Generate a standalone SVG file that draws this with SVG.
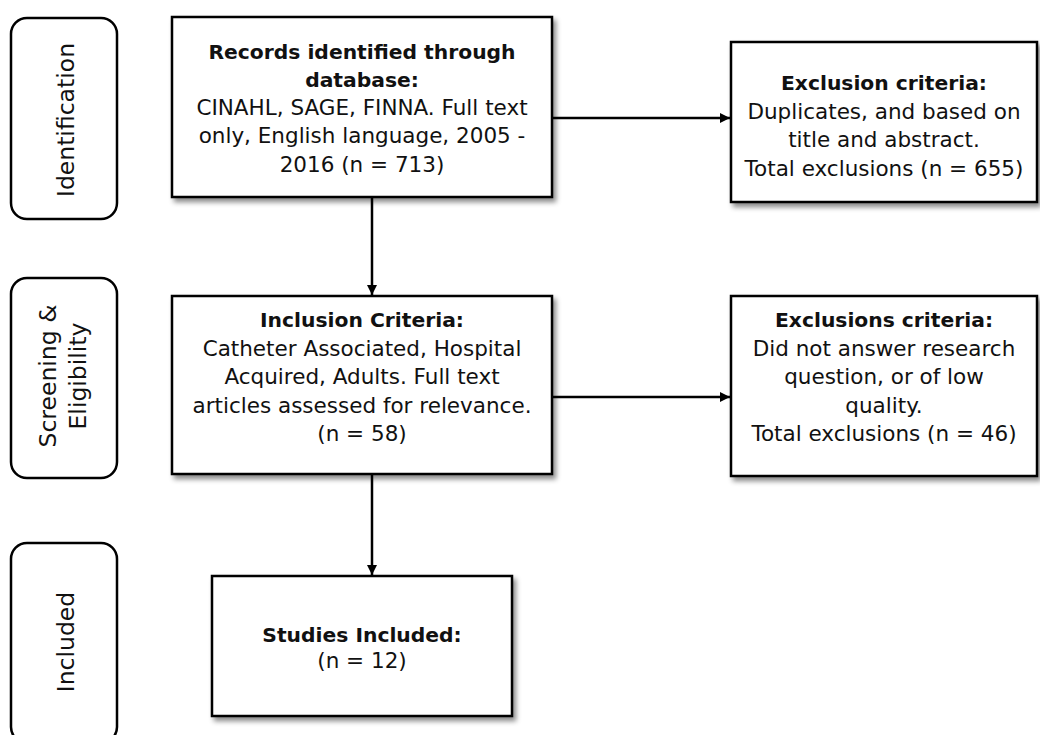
<svg xmlns="http://www.w3.org/2000/svg" width="1040" height="735" viewBox="0 0 1040 735">
<defs>
<filter id="sh" x="-10%" y="-10%" width="130%" height="130%">
<feDropShadow dx="3" dy="4" stdDeviation="2.5" flood-color="#000" flood-opacity="0.45"/>
</filter>
<marker id="ah" viewBox="0 0 10 10" refX="10" refY="5" markerWidth="10" markerHeight="10" markerUnits="userSpaceOnUse" orient="auto">
<path d="M0,0 L10,5 L0,10 Z" fill="#000"/>
</marker>
<style>
.box{fill:#fff;stroke:#000;stroke-width:2.5;filter:url(#sh)}
.pill{fill:#fff;stroke:#000;stroke-width:2.5}
.t{font-family:"DejaVu Sans",Verdana,sans-serif;font-size:21.5px;fill:#111;text-anchor:middle}
.b{font-weight:bold;font-size:20.3px}
.lbl{font-family:"DejaVu Sans",Verdana,sans-serif;font-size:23.5px;fill:#111;text-anchor:middle}
.c{stroke:#000;stroke-width:2.5;fill:none;marker-end:url(#ah)}
</style>
</defs>
<rect width="1040" height="735" fill="#fff"/>
<g id="stage-identification">
<rect class="pill" x="11" y="18" width="106" height="201" rx="16"/>
<text class="lbl" transform="translate(74,120) rotate(-90)">Identification</text>
</g>
<g id="stage-screening">
<rect class="pill" x="11" y="278" width="106" height="200" rx="16"/>
<text class="lbl" transform="translate(56,376) rotate(-90)"><tspan x="0" y="0">Screening &amp;</tspan><tspan x="0" y="30">Eligibility</tspan></text>
</g>
<g id="stage-included">
<rect class="pill" x="11" y="543" width="106" height="200" rx="16"/>
<text class="lbl" transform="translate(74,642) rotate(-90)">Included</text>
</g>
<g id="connectors">
<line class="c" x1="372" y1="197" x2="372" y2="295"/>
<line class="c" x1="552" y1="118" x2="730" y2="118"/>
<line class="c" x1="372" y1="474" x2="372" y2="575"/>
<line class="c" x1="552" y1="397" x2="730" y2="397"/>
</g>
<g id="records">
<rect class="box" x="172" y="17" width="380" height="180"/>
<text class="t"><tspan class="b" x="362" y="59">Records identified through</tspan><tspan class="b" x="362" y="87">database:</tspan><tspan x="362" y="115">CINAHL, SAGE, FINNA. Full text</tspan><tspan x="362" y="143">only, English language, 2005 -</tspan><tspan x="362" y="171.5">2016 (n = 713)</tspan></text>
</g>
<g id="exclusion1">
<rect class="box" x="731" y="42" width="306" height="160"/>
<text class="t"><tspan class="b" x="884" y="90">Exclusion criteria:</tspan><tspan x="884" y="118.5">Duplicates, and based on</tspan><tspan x="884" y="147">title and abstract.</tspan><tspan x="884" y="175.5">Total exclusions (n = 655)</tspan></text>
</g>
<g id="inclusion">
<rect class="box" x="172" y="296" width="380" height="178"/>
<text class="t"><tspan class="b" x="362" y="327">Inclusion Criteria:</tspan><tspan x="362" y="355.5">Catheter Associated, Hospital</tspan><tspan x="362" y="384">Acquired, Adults. Full text</tspan><tspan x="362" y="412.5">articles assessed for relevance.</tspan><tspan x="362" y="441">(n = 58)</tspan></text>
</g>
<g id="exclusion2">
<rect class="box" x="731" y="296" width="306" height="180"/>
<text class="t"><tspan class="b" x="884" y="327">Exclusions criteria:</tspan><tspan x="884" y="355.5">Did not answer research</tspan><tspan x="884" y="384">question, or of low</tspan><tspan x="884" y="412.5">quality.</tspan><tspan x="884" y="441">Total exclusions (n = 46)</tspan></text>
</g>
<g id="studies">
<rect class="box" x="212" y="576" width="300" height="140"/>
<text class="t"><tspan class="b" x="362" y="642">Studies Included:</tspan><tspan x="362" y="668">(n = 12)</tspan></text>
</g>
</svg>
